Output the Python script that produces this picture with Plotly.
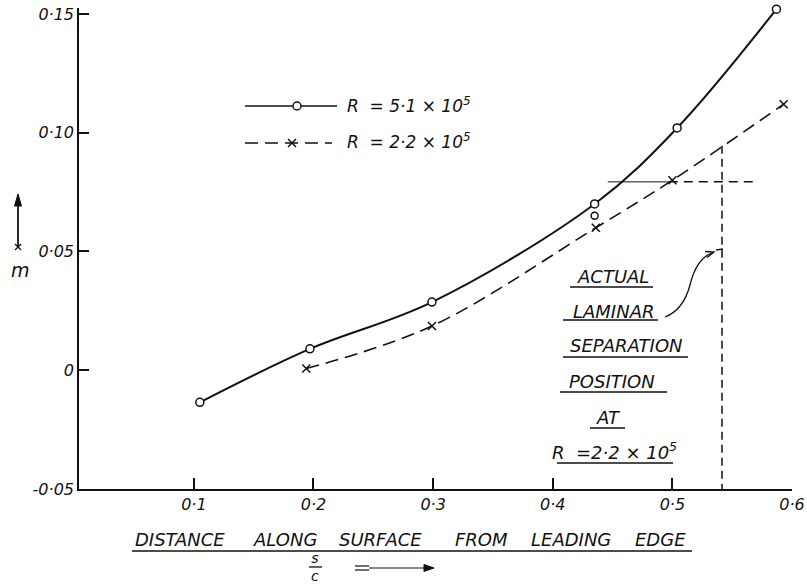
import plotly.graph_objects as go

# Momentum-thickness parameter m along the surface, two Reynolds numbers
s_c_high = [0.105, 0.197, 0.299, 0.435, 0.504, 0.587]
m_high = [-0.0135, 0.009, 0.0287, 0.070, 0.102, 0.152]

# repeat reading at s/c = 0.435 for R = 5.1e5 (not on the faired curve)
s_c_high_extra = [0.435]
m_high_extra = [0.065]

s_c_low = [0.194, 0.299, 0.436, 0.500, 0.593]
m_low = [0.0007, 0.0186, 0.060, 0.080, 0.112]

# laminar separation construction for R = 2.2e5
sep_level_m = 0.0793
sep_level_x = [0.446, 0.497, 0.570]
sep_s_c = 0.5415
sep_m_top = 0.0945

x_tick_vals = [0.1, 0.2, 0.3, 0.4, 0.5, 0.6]
x_tick_text = ["0·1", "0·2", "0·3", "0·4", "0·5", "0·6"]
y_tick_vals = [-0.05, 0.0, 0.05, 0.10, 0.15]
y_tick_text = ["-0·05", "0", "0·05", "0·10", "0·15"]

legend_labels = ["R  = 5·1 × 10<sup>5</sup>", "R  = 2·2 × 10<sup>5</sup>"]
note_lines = ["ACTUAL", "LAMINAR", "SEPARATION", "POSITION", "AT",
              "R  =2·2 × 10<sup>5</sup>"]
x_title_words = ["DISTANCE", "ALONG", "SURFACE", "FROM", "LEADING", "EDGE"]

W, H = 807, 585
L, R, T, B = 79, 15, 8, 96
PW, PH = W - L - R, H - T - B
Y_RANGE = [-0.05, 0.1525]

FONT = "DejaVu Sans"
INK = "#111111"


def px(x, y):
    """Pixel position on the page -> paper coordinates."""
    return (x - L) / PW, (T + PH - y) / PH


def path_px(cmds):
    out = []
    for c in cmds:
        if isinstance(c, str):
            out.append(c)
        else:
            a, b = px(*c)
            out.append(f"{a:.5f},{b:.5f}")
    return " ".join(out)


def hline(x0, x1, y, **line):
    a0, b0 = px(x0, y)
    a1, _ = px(x1, y)
    return dict(type="line", xref="paper", yref="paper",
                x0=a0, x1=a1, y0=b0, y1=b0, line=line)


def seg(p, q, **line):
    return dict(type="line", xref="paper", yref="paper",
                x0=px(*p)[0], y0=px(*p)[1], x1=px(*q)[0], y1=px(*q)[1],
                line=line)


def head(points):
    return dict(type="path", xref="paper", yref="paper",
                path=path_px(["M", points[0], "L", points[1], "L", points[2],
                              "Z"]),
                fillcolor=INK, line=dict(color=INK, width=1))


fig = go.Figure()

fig.add_trace(go.Scatter(
    x=s_c_high, y=m_high, mode="lines+markers",
    line=dict(color=INK, width=2, shape="spline", smoothing=1.0),
    marker=dict(symbol="circle", size=8, color="white",
                line=dict(color=INK, width=1.5)),
    cliponaxis=False, showlegend=False))

fig.add_trace(go.Scatter(
    x=s_c_high_extra, y=m_high_extra, mode="markers",
    marker=dict(symbol="circle", size=7, color="white",
                line=dict(color=INK, width=1.5)),
    cliponaxis=False, showlegend=False))

fig.add_trace(go.Scatter(
    x=s_c_low, y=m_low, mode="lines+markers",
    line=dict(color=INK, width=1.6, shape="spline", smoothing=1.0,
              dash="13px,7px"),
    marker=dict(symbol="x-thin", size=8, color=INK,
                line=dict(color=INK, width=1.5)),
    cliponaxis=False, showlegend=False))

shapes = []
# separation construction lines
shapes.append(dict(type="line", xref="x", yref="y",
                   x0=sep_level_x[0], x1=sep_level_x[1],
                   y0=sep_level_m, y1=sep_level_m,
                   line=dict(color=INK, width=1)))
shapes.append(dict(type="line", xref="x", yref="y",
                   x0=sep_level_x[1], x1=sep_level_x[2],
                   y0=sep_level_m, y1=sep_level_m,
                   line=dict(color=INK, width=1.5, dash="9px,6px")))
shapes.append(dict(type="line", xref="x", yref="y",
                   x0=sep_s_c, x1=sep_s_c, y0=sep_m_top, y1=-0.05,
                   line=dict(color=INK, width=1.5, dash="8px,5px")))

# curved pointer to the separation line
shapes.append(dict(type="path", xref="paper", yref="paper",
                   path=path_px(["M", (665, 317), "C", (678, 312), (686, 300),
                                 (690, 285), "C", (694, 268), (702, 256),
                                 (714, 252)]),
                   line=dict(color=INK, width=1.3)))
shapes.append(dict(type="path", xref="paper", yref="paper",
                   path=path_px(["M", (707, 257.5), "L", (714, 252),
                                 "L", (705, 251.5)]),
                   line=dict(color=INK, width=1.3)))
shapes.append(seg((716, 250), (723, 249), color=INK, width=1.3))

# legend keys
shapes.append(hline(245, 337, 106, color=INK, width=1.5))
cx0, cy0 = px(293, 102)
cx1, cy1 = px(301, 110)
shapes.append(dict(type="circle", xref="paper", yref="paper",
                   x0=cx0, y0=cy0, x1=cx1, y1=cy1, fillcolor="white",
                   line=dict(color=INK, width=1.4)))
shapes.append(hline(245, 332, 143, color=INK, width=1.5, dash="13px,7px"))
shapes.append(seg((288, 139), (296, 147), color=INK, width=1.4))
shapes.append(seg((288, 147), (296, 139), color=INK, width=1.4))

# underlines of the note and the axis title
underlines = [(570, 653, 287), (563, 658, 320), (563, 688, 357),
              (560, 667, 392), (590, 625, 428), (557, 673, 463),
              (132, 692, 551)]
for (x0, x1, y) in underlines:
    shapes.append(hline(x0, x1, y, color=INK, width=1.3))

# fraction bar of s/c and the double-shafted direction arrow
shapes.append(hline(309, 322, 567, color=INK, width=1.3))
shapes.append(hline(355, 369, 566, color=INK, width=1.2))
shapes.append(hline(355, 369, 570, color=INK, width=1.2))
shapes.append(hline(369, 426, 568, color=INK, width=1.2))
shapes.append(head([(434, 568), (424, 564.5), (424, 571.5)]))

# upward arrow beside the m symbol
shapes.append(seg((18, 248), (18, 204), color=INK, width=1.8))
shapes.append(head([(18, 194), (14.5, 206), (21.5, 206)]))
shapes.append(seg((15, 244), (21, 250), color=INK, width=1.2))
shapes.append(seg((15, 250), (21, 244), color=INK, width=1.2))

annotations = []
tfont = dict(family=FONT, size=18, color=INK, style="italic")

note_pos = [(613, 276), (613, 311), (626, 346), (612, 381), (608, 417),
            (614, 451)]
for txt, (x, y) in zip(note_lines, note_pos):
    a, b = px(x, y)
    annotations.append(dict(text=txt, x=a, y=b, xref="paper", yref="paper",
                            showarrow=False, font=tfont,
                            xanchor="center", yanchor="middle"))

for txt, y in zip(legend_labels, [105, 141]):
    a, b = px(345, y)
    annotations.append(dict(text=txt, x=a, y=b, xref="paper", yref="paper",
                            showarrow=False,
                            font=dict(family=FONT, size=17, color=INK,
                                      style="italic"),
                            xanchor="left", yanchor="middle"))

word_pos = [180, 285, 380, 481, 571, 660]
for txt, x in zip(x_title_words, word_pos):
    a, b = px(x, 539)
    annotations.append(dict(text=txt, x=a, y=b, xref="paper", yref="paper",
                            showarrow=False, font=tfont,
                            xanchor="center", yanchor="middle"))

# s over c, stacked as one two-line label
a, b = px(315, 567)
annotations.append(dict(text="s<br>c", x=a, y=b, xref="paper", yref="paper",
                        showarrow=False,
                        font=dict(family=FONT, size=14, color=INK,
                                  style="italic"),
                        xanchor="center", yanchor="middle"))

# y-axis symbol
a, b = px(20, 270)
annotations.append(dict(text="m", x=a, y=b, xref="paper", yref="paper",
                        showarrow=False,
                        font=dict(family=FONT, size=19, color=INK,
                                  style="italic"),
                        xanchor="center", yanchor="middle"))

fig.update_layout(
    width=W, height=H, autosize=False,
    margin=dict(l=L, r=R, t=T, b=B, pad=0, autoexpand=False),
    paper_bgcolor="white", plot_bgcolor="white",
    shapes=shapes, annotations=annotations,
    showlegend=False,
    font=dict(family=FONT, size=16, color=INK),
)
tick_font = dict(family=FONT, size=16, color=INK, style="italic")
fig.update_xaxes(
    range=[0.004, 0.6], showgrid=False, zeroline=False, automargin=False,
    showline=True, linecolor=INK, linewidth=1.6,
    ticks="inside", ticklen=11, tickwidth=1.6, tickcolor=INK,
    tickvals=x_tick_vals, ticktext=x_tick_text, tickfont=tick_font,
)
fig.update_yaxes(
    range=Y_RANGE, showgrid=False, zeroline=False, automargin=False,
    showline=True, linecolor=INK, linewidth=1.6,
    ticks="inside", ticklen=10, tickwidth=1.6, tickcolor=INK,
    tickvals=y_tick_vals, ticktext=y_tick_text, tickfont=tick_font,
)

fig.write_html("out.html")
